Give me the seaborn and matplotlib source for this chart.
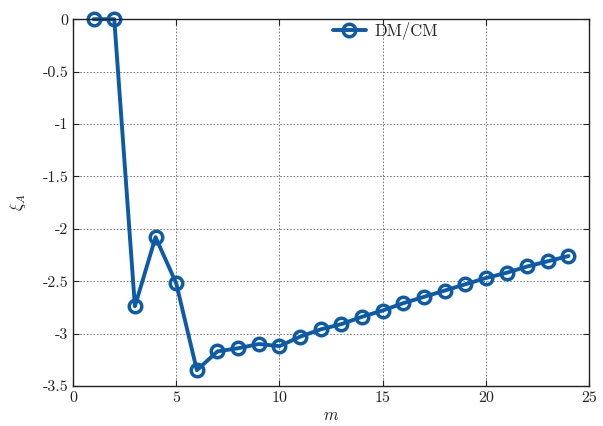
import matplotlib
matplotlib.use("Agg")
import matplotlib.pyplot as plt
import seaborn as sns
import pandas as pd

m_values = list(range(1, 25))
xi_values = [0.0, 0.0, -2.74, -2.08, -2.52, -3.35, -3.17, -3.14, -3.10, -3.12,
             -3.03, -2.96, -2.91, -2.84, -2.78, -2.71, -2.65, -2.59, -2.53,
             -2.47, -2.42, -2.36, -2.31, -2.26]
series_name = "DM/CM"

sns.set_style("ticks")
plt.rcParams["font.family"] = ["cmr10", "DejaVu Serif"]
plt.rcParams["mathtext.fontset"] = "cm"
plt.rcParams["axes.unicode_minus"] = False
plt.rcParams["axes.formatter.use_mathtext"] = False

df = pd.DataFrame({"m": m_values, "xi": xi_values, "series": series_name})

fig = plt.figure(figsize=(6.03, 4.26), dpi=100)
ax = fig.add_axes([0.121, 0.094, 0.856, 0.861])

blue = "#0d5ba6"
sns.lineplot(data=df, x="m", y="xi", hue="series", palette=[blue], ax=ax,
             marker="o", markersize=9, markerfacecolor="none",
             markeredgecolor=blue, markeredgewidth=2.5, linewidth=2.8,
             clip_on=False)

ax.set_xlim(0, 25)
ax.set_ylim(-3.5, 0)
ax.set_xticks([0, 5, 10, 15, 20, 25])
ax.set_yticks([0, -0.5, -1, -1.5, -2, -2.5, -3, -3.5])
ax.set_yticklabels(["0", "-0.5", "-1", "-1.5", "-2", "-2.5", "-3", "-3.5"])
ax.grid(True, color="#666666", linestyle=(0, (2, 2)), linewidth=0.6)
ax.tick_params(direction="in", top=True, right=True, length=4,
               labelsize=11.5, colors="#222222")
for s in ax.spines.values():
    s.set_linewidth(1.0)
    s.set_color("#222222")

ax.set_xlabel(r"$m$", fontsize=12, labelpad=2)
ax.set_ylabel(r"$\xi_A$", fontsize=12, labelpad=10)

leg = ax.legend(loc="upper center", bbox_to_anchor=(0.605, 1.02), frameon=False,
                fontsize=12, handlelength=2.0, handletextpad=0.5,
                borderaxespad=0.2)

fig.savefig("out.png", dpi=100)
